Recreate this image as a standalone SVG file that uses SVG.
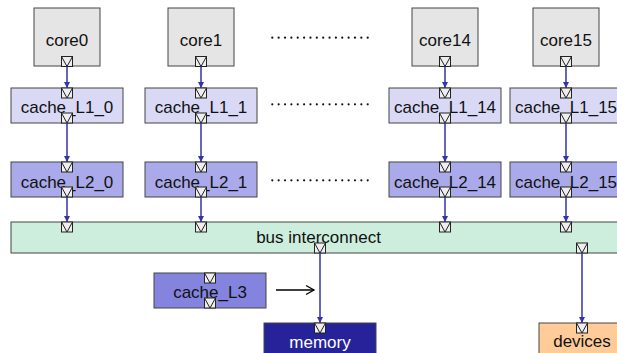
<svg xmlns="http://www.w3.org/2000/svg" width="617" height="353" viewBox="0 0 617 353">
<defs>
<style>
.box{stroke:#444;stroke-width:1}
.core{fill:#e5e5e5}
.l1{fill:#d9d9f6}
.l2{fill:#aaaaea}
.l3{fill:#8484df}
.bus{fill:#cdeedd}
.mem{fill:#26229a}
.dev{fill:#ffcc99}
text{font-family:"Liberation Sans",Arial,sans-serif;font-size:17px;text-anchor:middle;fill:#111}
.wt{fill:#fff}
.port rect{fill:#eeeeee;stroke:#222;stroke-width:1}
.port polyline{fill:none;stroke:#222;stroke-width:1}
.conn{stroke:#3333aa;stroke-width:1.5;fill:none}
.dots{stroke:#111;stroke-width:2.2;stroke-linecap:round;stroke-dasharray:0 6.36}
</style>
<symbol id="p" overflow="visible">
<g class="port"><rect x="-5.5" y="0" width="11" height="10"/><polyline points="-5.5,0 0,10 5.5,0"/></g>
</symbol>
<marker id="ah" markerWidth="7" markerHeight="7" refX="6" refY="3" orient="auto" markerUnits="userSpaceOnUse">
<path d="M0,0 L6,3 L0,6 z" fill="#3333aa"/>
</marker>
</defs>
<g id="core0"><rect class="box core" x="34" y="8" width="66" height="58"/><text x="67" y="45.5">core0</text><use href="#p" x="67" y="56.5"/></g>
<g id="core1"><rect class="box core" x="168" y="8" width="66" height="58"/><text x="201" y="45.5">core1</text><use href="#p" x="201" y="56.5"/></g>
<g id="core14"><rect class="box core" x="412" y="8" width="66" height="58"/><text x="445" y="45.5">core14</text><use href="#p" x="445" y="56.5"/></g>
<g id="core15"><rect class="box core" x="533" y="8" width="66" height="58"/><text x="566" y="45.5">core15</text><use href="#p" x="566" y="56.5"/></g>

<g id="cache_L1_0"><rect class="box l1" x="11" y="88" width="112" height="35"/><text x="67" y="113">cache_L1_0</text><use href="#p" x="67" y="88"/><use href="#p" x="67" y="113"/></g>
<g id="cache_L1_1"><rect class="box l1" x="145" y="88" width="112" height="35"/><text x="201" y="113">cache_L1_1</text><use href="#p" x="201" y="88"/><use href="#p" x="201" y="113"/></g>
<g id="cache_L1_14"><rect class="box l1" x="389" y="88" width="112" height="35"/><text x="445" y="113">cache_L1_14</text><use href="#p" x="445" y="88"/><use href="#p" x="445" y="113"/></g>
<g id="cache_L1_15"><rect class="box l1" x="510" y="88" width="112" height="35"/><text x="566" y="113">cache_L1_15</text><use href="#p" x="566" y="88"/><use href="#p" x="566" y="113"/></g>

<g id="cache_L2_0"><rect class="box l2" x="11" y="162" width="112" height="35"/><text x="67" y="187.5">cache_L2_0</text><use href="#p" x="67" y="162"/><use href="#p" x="67" y="187"/></g>
<g id="cache_L2_1"><rect class="box l2" x="145" y="162" width="112" height="35"/><text x="201" y="187.5">cache_L2_1</text><use href="#p" x="201" y="162"/><use href="#p" x="201" y="187"/></g>
<g id="cache_L2_14"><rect class="box l2" x="389" y="162" width="112" height="35"/><text x="445" y="187.5">cache_L2_14</text><use href="#p" x="445" y="162"/><use href="#p" x="445" y="187"/></g>
<g id="cache_L2_15"><rect class="box l2" x="510" y="162" width="112" height="35"/><text x="566" y="187.5">cache_L2_15</text><use href="#p" x="566" y="162"/><use href="#p" x="566" y="187"/></g>

<g id="bus"><rect class="box bus" x="11" y="222" width="618" height="31"/><text x="318.5" y="243">bus interconnect</text>
<use href="#p" x="67" y="222"/><use href="#p" x="201" y="222"/><use href="#p" x="445" y="222"/><use href="#p" x="566" y="222"/>
<use href="#p" x="320" y="243"/><use href="#p" x="582" y="243"/></g>

<g id="cache_L3"><rect class="box l3" x="154" y="273" width="112" height="35"/><text x="210" y="298">cache_L3</text><use href="#p" x="210" y="273"/><use href="#p" x="210" y="298"/></g>
<g id="memory"><rect class="box mem" x="264" y="323" width="112" height="35"/><text class="wt" x="320" y="347.5">memory</text><use href="#p" x="320" y="323"/></g>
<g id="devices"><rect class="box dev" x="539" y="323" width="86" height="35"/><text x="582" y="347">devices</text><use href="#p" x="582" y="323"/></g>

<g id="ellipses">
<line class="dots" x1="272.3" y1="37.7" x2="367.7" y2="37.7"/>
<line class="dots" x1="272.3" y1="104.3" x2="367.7" y2="104.3"/>
<line class="dots" x1="272.3" y1="180.3" x2="367.7" y2="180.3"/>
</g>

<g id="connectors">
<line class="conn" x1="67" y1="66.5" x2="67" y2="88" marker-end="url(#ah)"/>
<line class="conn" x1="201" y1="66.5" x2="201" y2="88" marker-end="url(#ah)"/>
<line class="conn" x1="445" y1="66.5" x2="445" y2="88" marker-end="url(#ah)"/>
<line class="conn" x1="566" y1="66.5" x2="566" y2="88" marker-end="url(#ah)"/>
<line class="conn" x1="67" y1="123" x2="67" y2="162" marker-end="url(#ah)"/>
<line class="conn" x1="201" y1="123" x2="201" y2="162" marker-end="url(#ah)"/>
<line class="conn" x1="445" y1="123" x2="445" y2="162" marker-end="url(#ah)"/>
<line class="conn" x1="566" y1="123" x2="566" y2="162" marker-end="url(#ah)"/>
<line class="conn" x1="67" y1="197" x2="67" y2="222" marker-end="url(#ah)"/>
<line class="conn" x1="201" y1="197" x2="201" y2="222" marker-end="url(#ah)"/>
<line class="conn" x1="445" y1="197" x2="445" y2="222" marker-end="url(#ah)"/>
<line class="conn" x1="566" y1="197" x2="566" y2="222" marker-end="url(#ah)"/>
<line class="conn" x1="320" y1="253" x2="320" y2="323" marker-end="url(#ah)"/>
<line class="conn" x1="582" y1="253" x2="582" y2="323" marker-end="url(#ah)"/>
<g stroke="#000" stroke-width="1.3" fill="none"><line x1="276" y1="290" x2="314" y2="290"/><polyline points="306,285.5 314,290 306,294.5"/></g>
</g>
</svg>
